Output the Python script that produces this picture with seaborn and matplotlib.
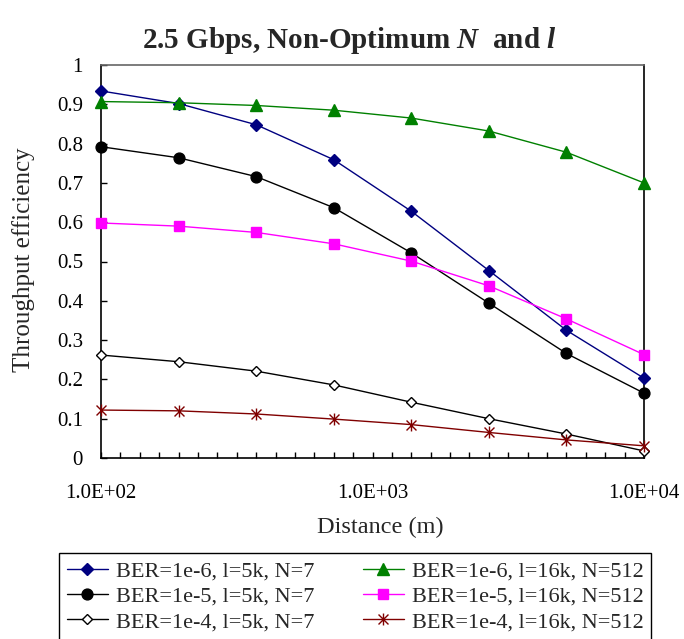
import numpy as np
import pandas as pd
import matplotlib
matplotlib.use("Agg")
import matplotlib.pyplot as plt
from matplotlib.path import Path
from matplotlib.ticker import FixedLocator, FuncFormatter, NullFormatter
import seaborn as sns

# ---- data ----
distance = [100, 193, 373, 720, 1389, 2683, 5179, 10000]
ber6_l5k = [0.934, 0.902, 0.848, 0.759, 0.628, 0.477, 0.325, 0.203]
ber5_l5k = [0.792, 0.764, 0.716, 0.637, 0.522, 0.394, 0.266, 0.165]
ber4_l5k = [0.262, 0.245, 0.221, 0.186, 0.142, 0.100, 0.061, 0.018]
ber6_l16k = [0.907, 0.904, 0.897, 0.885, 0.865, 0.832, 0.778, 0.700]
ber5_l16k = [0.598, 0.590, 0.574, 0.545, 0.501, 0.438, 0.354, 0.263]
ber4_l16k = [0.122, 0.120, 0.112, 0.099, 0.085, 0.065, 0.046, 0.031]
labels = ["BER=1e-6, l=5k, N=7", "BER=1e-5, l=5k, N=7", "BER=1e-4, l=5k, N=7",
          "BER=1e-6, l=16k, N=512", "BER=1e-5, l=16k, N=512", "BER=1e-4, l=16k, N=512"]
x_major = [100, 1000, 10000]
y_ticks = [0, 0.1, 0.2, 0.3, 0.4, 0.5, 0.6, 0.7, 0.8, 0.9, 1]

sns.set_style("white")
plt.rcParams["font.family"] = ["Liberation Serif", "DejaVu Serif"]
plt.rcParams["mathtext.fontset"] = "custom"
plt.rcParams["mathtext.it"] = "Liberation Serif:italic:bold"
plt.rcParams["mathtext.rm"] = "Liberation Serif:bold"

W, H = 684, 639
fig = plt.figure(figsize=(W / 100, H / 100), dpi=100)
fig.patch.set_facecolor("white")
ax = fig.add_axes([101 / W, 1 - 458 / H, (644 - 101) / W, (458 - 65) / H])

star = Path([(-1, -1), (1, 1), (-1, 1), (1, -1), (0, -1.2), (0, 1.2)],
            [Path.MOVETO, Path.LINETO, Path.MOVETO, Path.LINETO, Path.MOVETO, Path.LINETO])

styles = [
    dict(color="#000080", marker="D", ms=5.8, mfc="#000080", mec="#000080"),
    dict(color="#000000", marker="o", ms=7.8, mfc="#000000", mec="#000000"),
    dict(color="#000000", marker="D", ms=5.4, mfc="white", mec="#000000"),
    dict(color="#008000", marker="^", ms=8.6, mfc="#008000", mec="#008000"),
    dict(color="#FF00FF", marker="s", ms=7.4, mfc="#FF00FF", mec="#FF00FF"),
    dict(color="#800000", marker=star, ms=8.6, mfc="#800000", mec="#800000"),
]
series = [ber6_l5k, ber5_l5k, ber4_l5k, ber6_l16k, ber5_l16k, ber4_l16k]

for idx in [3, 4, 5, 0, 1, 2]:
    st = styles[idx]
    sns.lineplot(x=distance, y=series[idx], ax=ax, color=st["color"], marker=st["marker"],
                 markersize=st["ms"], markerfacecolor=st["mfc"], markeredgecolor=st["mec"],
                 markeredgewidth=1.0, linewidth=1.0, label=labels[idx], clip_on=False,
                 zorder=3 + idx, estimator=None, sort=False)

ax.set_xscale("log")
ax.set_xlim(100, 10000)
ax.set_ylim(0, 1)
ax.xaxis.set_major_locator(FixedLocator(x_major))
ax.xaxis.set_major_formatter(FuncFormatter(lambda v, p: f"{v:.1E}"))
minor = [10 ** (2 + k / 14) for k in range(29) if k % 14 != 0]
ax.xaxis.set_minor_locator(FixedLocator(minor))
ax.xaxis.set_minor_formatter(NullFormatter())
ax.set_yticks(y_ticks)
ax.set_yticklabels(["0", "0.1", "0.2", "0.3", "0.4", "0.5", "0.6", "0.7", "0.8", "0.9", "1"])

ax.tick_params(axis="both", which="both", direction="in", length=4.5, width=1.0,
               colors="black", labelsize=15, bottom=True, left=True, top=False, right=False)
ax.tick_params(axis="y", pad=13)
ax.tick_params(axis="x", pad=19)

for side in ["left", "bottom", "right"]:
    ax.spines[side].set_color("black")
    ax.spines[side].set_linewidth(1.2)
ax.spines["top"].set_color("#666666")
ax.spines["top"].set_linewidth(1.2)
ax.set_xlabel("")
ax.set_ylabel("")
ax.grid(False)

fig.text(380 / W, 1 - 527 / H, "Distance (m)", ha="center", va="center", fontsize=17.5)
fig.text(24 / W, 1 - 260 / H, "Throughput efficiency", ha="center", va="center",
         rotation=90, fontsize=18)
fig.text(349 / W, 1 - 48 / H, r"2.5 Gbps, Non-Optimum $N$  and $l$", ha="center",
         va="baseline", fontsize=21, fontweight="bold")

ax.get_legend().remove()
handles, labs = ax.get_legend_handles_labels()
order = [labs.index(l) for l in labels]
leg = fig.legend([handles[i] for i in order], [labs[i] for i in order], ncol=2,
                 loc="upper left", bbox_to_anchor=(59 / W, 1 - 553 / H),
                 bbox_transform=fig.transFigure, fontsize=16, frameon=True,
                 fancybox=False, edgecolor="black", framealpha=1, borderpad=0.35,
                 labelspacing=0.22, handlelength=1.85, handletextpad=0.35,
                 columnspacing=2.2, borderaxespad=0)
leg.get_frame().set_linewidth(1.0)

fig.savefig("out.png", dpi=100, facecolor="white")
